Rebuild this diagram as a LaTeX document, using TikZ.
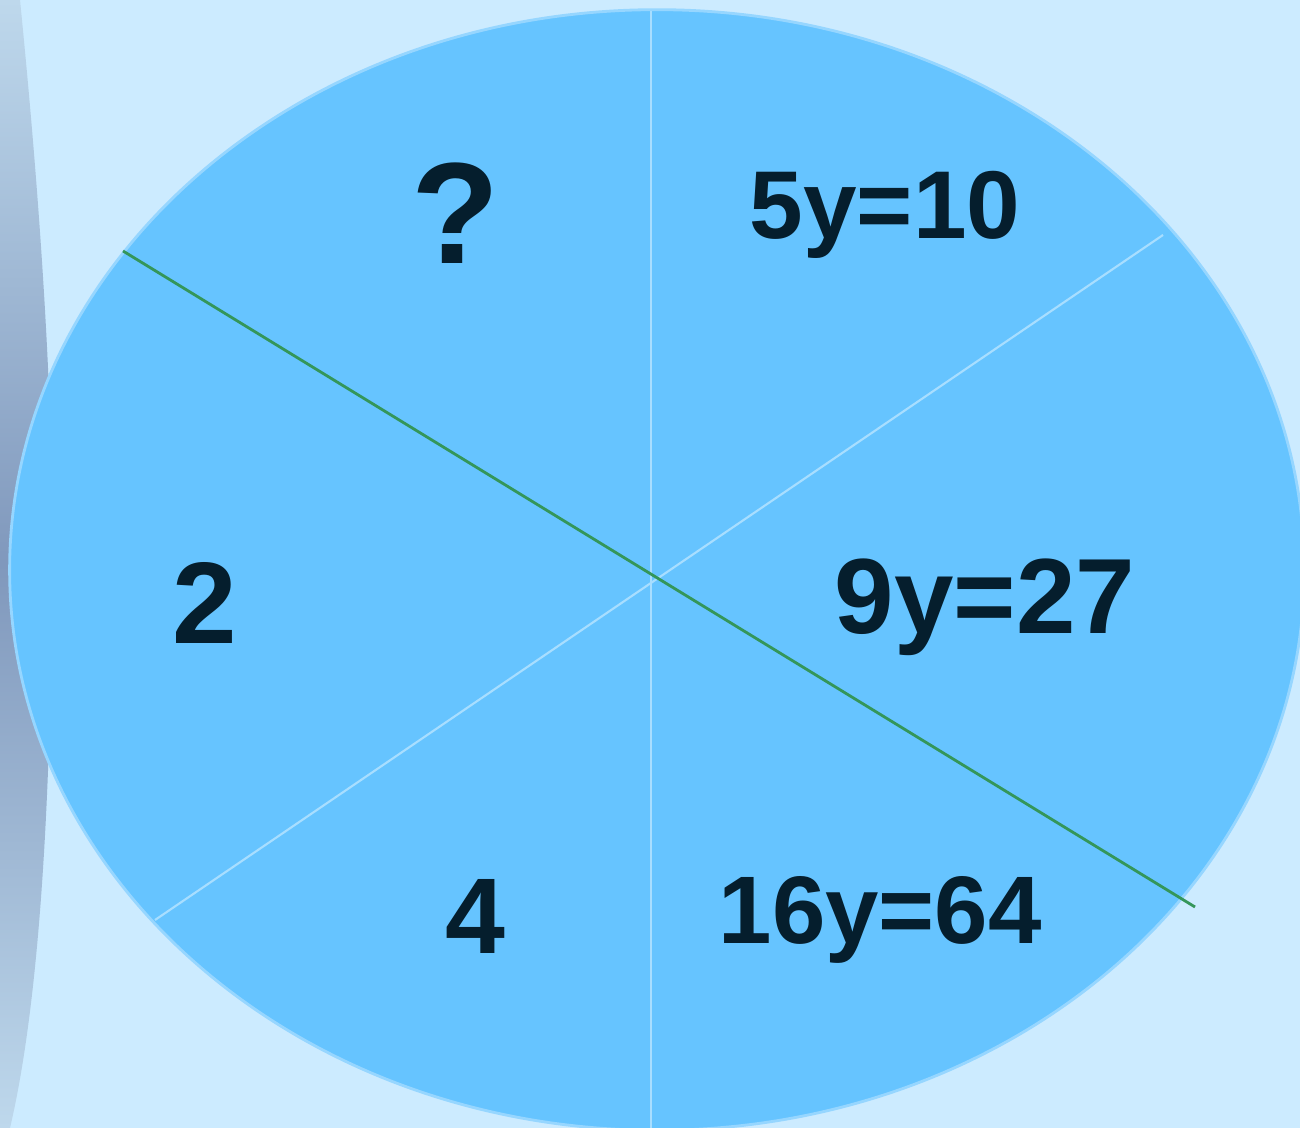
\documentclass[tikz,border=0pt]{standalone}
\usepackage{fontspec}
\setmainfont{Liberation Sans}
\usetikzlibrary{shapes.geometric}
\definecolor{bgblue}{RGB}{204,235,255}
\definecolor{pieblue}{RGB}{102,196,255}
\definecolor{rimblue}{RGB}{150,214,255}
\definecolor{divblue}{RGB}{168,222,255}
\definecolor{greenline}{RGB}{52,150,90}
\definecolor{inkdark}{RGB}{5,30,45}
\definecolor{striplight}{RGB}{190,216,236}
\definecolor{stripdark}{RGB}{128,152,188}
\tikzset{
  lbl/.style={anchor=base west, inner sep=0pt, text=inkdark, font=\bfseries},
  divider/.style={draw=divblue, line width=0.6pt},
  cutline/.style={draw=greenline, line width=0.8pt}
}
\begin{document}
\begin{tikzpicture}[x=0.01cm, y=-0.01cm]
\useasboundingbox (0,0) rectangle (1300,1128);
\clip (0,0) rectangle (1300,1128);
\fill[bgblue] (0,0) rectangle (1300,1128);
% left decorative strip
\shade[top color=striplight, bottom color=striplight, middle color=stripdark]
  (0,0) -- (20,0) .. controls (45,250) and (55,450) .. (52,600)
  .. controls (50,800) and (40,1000) .. (10,1128) -- (0,1128) -- cycle;
% pie
\node[ellipse, draw=rimblue, line width=0.8pt, fill=pieblue, minimum width=12.94cm, minimum height=11.2cm, inner sep=0pt] (pie) at (657,570) {};
\coordinate (vt) at (651,11);
\coordinate (vb) at (651,1140);
\coordinate (dt) at (1163,235);
\coordinate (db) at (155,920);
\coordinate (gt) at (123,251);
\coordinate (gb) at (1195,907);
\draw[divider] (vt) -- (vb);
\draw[divider] (dt) -- (db);
\draw[cutline] (gt) -- (gb);
% labels
\node[lbl, font=\bfseries\fontsize{41}{41}\selectfont] (q) at (411,264) {?};
\node[lbl, font=\bfseries\fontsize{27.4}{27.4}\selectfont] (a) at (749,239) {5y=10};
\node[lbl, font=\bfseries\fontsize{30.4}{30.4}\selectfont] (b) at (834,634) {9y=27};
\node[lbl, font=\bfseries\fontsize{33}{33}\selectfont] (c) at (172,643) {2};
\node[lbl, font=\bfseries\fontsize{30.6}{30.6}\selectfont] (d) at (445,953) {4};
\node[lbl, font=\bfseries\fontsize{27.3}{27.3}\selectfont] (e) at (718,943) {16y=64};
\end{tikzpicture}
\end{document}
